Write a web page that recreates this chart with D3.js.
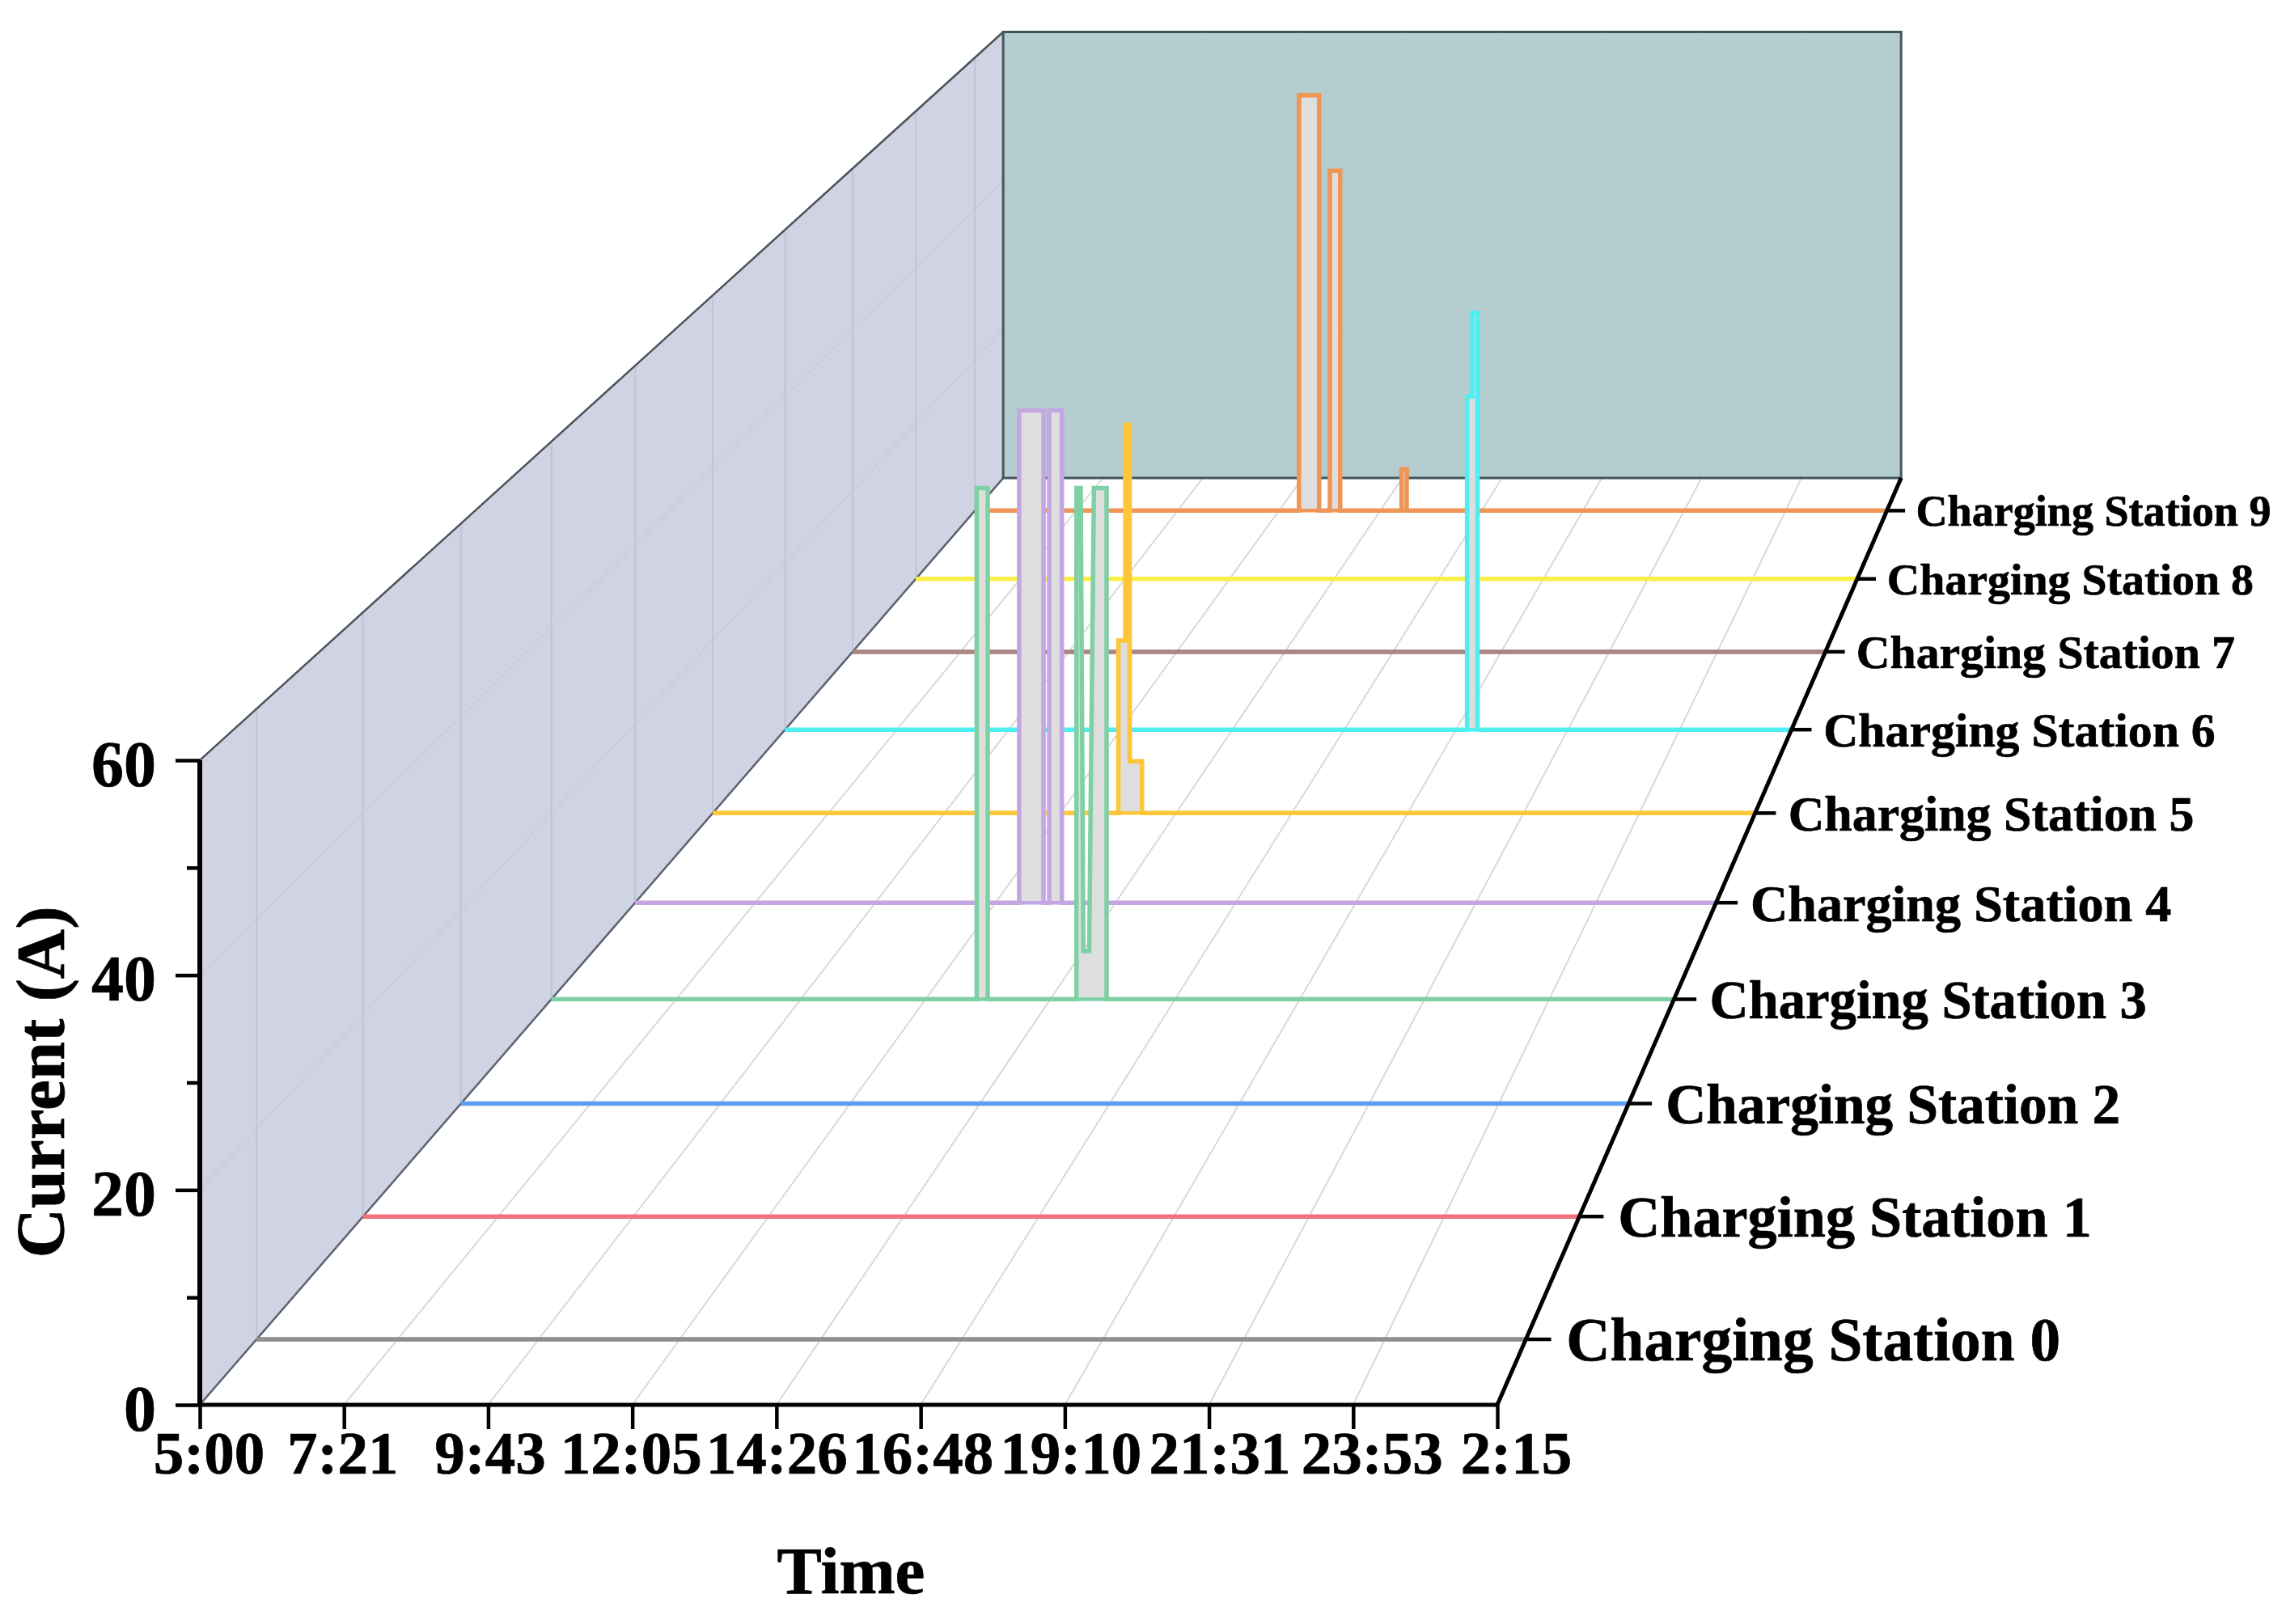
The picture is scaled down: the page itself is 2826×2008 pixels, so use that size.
<!DOCTYPE html>
<html>
<head>
<meta charset="utf-8">
<script src="https://cdn.jsdelivr.net/npm/d3@7"></script>
<style>
html,body{margin:0;padding:0;background:#fff}
svg{display:block}
text{font-family:"Liberation Serif","Times New Roman",serif;font-weight:bold;fill:#000;stroke:#000;stroke-width:0.7px}
</style>
</head>
<body>
<svg id="chart" width="2826" height="2008"></svg>
<script>
// ---------- data ----------
const stationNames = ["Charging Station 0","Charging Station 1","Charging Station 2","Charging Station 3","Charging Station 4","Charging Station 5","Charging Station 6","Charging Station 7","Charging Station 8","Charging Station 9"];
const stationColors = ["#8f8f8f","#f0737c","#5d9df0","#7fd0a4","#c3a6e2","#fdc63a","#4feef0","#a98583","#f9ef45","#ef9556"];
const timeTickHours = [5,7.361,9.722,12.083,14.444,16.806,19.167,21.528,23.889,26.25];
const timeTickLabels = ["5:00","7:21","9:43","12:05","14:26","16:48","19:10","21:31","23:53","2:15"];
const currentMajorTicks = [0,20,40,60];
const currentAllTicks = [0,10,20,30,40,50,60];

// hours since midnight (values past 24 run into the next day) and current in A
const station0Hours = [5,26.25];
const station0Amps  = [0,0];
const station1Hours = [5,26.25];
const station1Amps  = [0,0];
const station2Hours = [5,26.25];
const station2Amps  = [0,0];
const station3Hours = [5,13.05,13.05,13.26,13.26,14.94,14.94,15.02,15.07,15.18,15.27,15.51,15.51,26.25];
const station3Amps  = [0,0,55,55,0,0,55,55,5.2,5.2,55,55,0,0];
const station4Hours = [5,12.55,12.55,13.03,13.03,13.14,13.14,13.39,13.39,26.25];
const station4Amps  = [0,0,55,55,0,0,55,55,0,0];
const station5Hours = [5,13.27,13.27,13.41,13.41,13.50,13.50,13.75,13.75,26.25];
const station5Amps  = [0,0,20,20,45,45,6,6,0,0];
const station6Hours = [5,19.40,19.40,19.51,19.51,19.62,19.62,26.25];
const station6Amps  = [0,0,40,40,50,50,0,0];
const station7Hours = [5,26.25];
const station7Amps  = [0,0];
const station8Hours = [5,26.25];
const station8Amps  = [0,0];
const station9Hours = [5,12.55,12.55,13.02,13.02,13.27,13.27,13.51,13.51,14.94,14.94,15.06,15.06,26.25];
const station9Amps  = [0,0,55,55,0,0,45,45,0,0,5.5,5.5,0,0];

const stationHours = [station0Hours,station1Hours,station2Hours,station3Hours,station4Hours,station5Hours,station6Hours,station7Hours,station8Hours,station9Hours];
const stationAmps  = [station0Amps,station1Amps,station2Amps,station3Amps,station4Amps,station5Amps,station6Amps,station7Amps,station8Amps,station9Amps];

// ---------- scales and perspective ----------
const xScale = d3.scaleLinear().domain([5,26.25]).range([247,1851]);
const yScale = d3.scaleLinear().domain([0,60]).range([1737,940]);
const zScale = d3.scaleBand().domain(stationNames).range([0,1]);
const vanishX = 3472, vanishY = -1984, depthK = 0.445;
const persp = z => 1/(1+depthK*z);
const zOf = name => zScale(name)+zScale.bandwidth()/2;
const project = (h,a,z) => {
  const s = persp(z);
  return [vanishX+(xScale(h)-vanishX)*s, vanishY+(yScale(a)-vanishY)*s];
};
const xMin = xScale.domain()[0], xMax = xScale.domain()[1], yMax = yScale.domain()[1];

const svg = d3.select("#chart");
const path = d3.line();

// ---------- walls ----------
const wallLeft = [project(xMin,0,0),project(xMin,0,1),project(xMin,yMax,1),project(xMin,yMax,0)];
const wallBack = [project(xMin,0,1),project(xMax,0,1),project(xMax,yMax,1),project(xMin,yMax,1)];
svg.append("path").attr("d",path(wallLeft)+"Z").attr("fill","#cfd3e3");
svg.append("path").attr("d",path(wallBack)+"Z").attr("fill","#b4cdcf");

// wall grid
const gridG = svg.append("g").attr("fill","none");
currentMajorTicks.slice(1,3).forEach(a=>{
  gridG.append("path").attr("d",path([project(xMin,a,0),project(xMin,a,1)])).attr("stroke","#c8ccdb").attr("stroke-width",2);
  gridG.append("path").attr("d",path([project(xMin,a,1),project(xMax,a,1)])).attr("stroke","#b2cbcd").attr("stroke-width",2);
});
stationNames.forEach(n=>{
  gridG.append("path").attr("d",path([project(xMin,0,zOf(n)),project(xMin,yMax,zOf(n))])).attr("stroke","#c0c4d4").attr("stroke-width",2);
});
timeTickHours.slice(1,-1).forEach(h=>{
  gridG.append("path").attr("d",path([project(h,0,1),project(h,yMax,1)])).attr("stroke","#b2cbcd").attr("stroke-width",2);
  gridG.append("path").attr("d",path([project(h,0,0),project(h,0,1)])).attr("stroke","#d9d9d9").attr("stroke-width",2);
});

// wall borders
svg.append("path").attr("d",path([wallLeft[0],wallLeft[1]])).attr("fill","none").attr("stroke","#5b6170").attr("stroke-width",2.5);
svg.append("path").attr("d",path([wallLeft[3],wallLeft[2]])).attr("fill","none").attr("stroke","#4a5358").attr("stroke-width",2.5);
svg.append("path").attr("d",path(wallBack)+"Z").attr("fill","none").attr("stroke","#43565b").attr("stroke-width",3);

// ---------- series (back to front) ----------
d3.range(stationNames.length-1,-1,-1).forEach(i=>{
  const z = zOf(stationNames[i]);
  const pts = stationHours[i].map((h,k)=>project(h,stationAmps[i][k],z));
  svg.append("path").attr("d",path(pts)+"Z").attr("fill","#dedede").attr("stroke","none");
  // baseline across the whole depth row, running under the pulses
  svg.append("path").attr("d",path([project(xMin,0,z),project(xMax,0,z)])).attr("fill","none")
    .attr("stroke",stationColors[i]).attr("stroke-width",4.5);
  svg.append("path").attr("d",path(pts)).attr("fill","none")
    .attr("stroke",stationColors[i]).attr("stroke-width",5.5).attr("stroke-linejoin","miter");
});

// ---------- axes ----------
const xNudge = [11,-2,2,-2,0,2,7,13,23,23];
const xAxis = d3.axisBottom(xScale).tickValues(timeTickHours).tickSize(30).tickPadding(0)
  .tickFormat((d,i)=>timeTickLabels[i]);
const xG = svg.append("g").attr("transform",`translate(0,${yScale(0)})`).call(xAxis);
xG.select(".domain").attr("stroke","#000").attr("stroke-width",5).attr("d",`M${xScale(xMin)},0H${xScale(xMax)}`);
xG.selectAll(".tick line").attr("stroke","#000").attr("stroke-width",4.5);
xG.selectAll(".tick text").attr("font-size",75).attr("font-family",null).attr("dy",null)
  .attr("x",(d,i)=>xNudge[i]).attr("y",85).attr("text-anchor","middle");

const yAxis = d3.axisLeft(yScale).tickValues(currentAllTicks).tickSize(30).tickPadding(0)
  .tickFormat(d=>currentMajorTicks.includes(d)?d:"");
const yG = svg.append("g").attr("transform",`translate(${xScale(xMin)},0)`).call(yAxis);
yG.select(".domain").attr("stroke","#000").attr("stroke-width",6).attr("d",`M0,${yScale(0)}V${yScale(yMax)}`);
yG.selectAll(".tick line").attr("stroke","#000").attr("stroke-width",4.5)
  .attr("x2",d=>currentMajorTicks.includes(d)?-30:-16);
yG.selectAll(".tick text").attr("font-size",80).attr("font-family",null).attr("dy",null)
  .attr("x",-54).attr("y",31).attr("text-anchor","end");

// depth axis
svg.append("path").attr("d",path([project(xMax,0,0),project(xMax,0,1)])).attr("fill","none").attr("stroke","#000").attr("stroke-width",5);
stationNames.forEach(n=>{
  const z = zOf(n), s = persp(z), p = project(xMax,0,z);
  svg.append("path").attr("d",path([p,[p[0]+32*s,p[1]]])).attr("fill","none").attr("stroke","#000").attr("stroke-width",4.5);
  svg.append("text").attr("x",p[0]+51*s).attr("y",p[1]+27*s).attr("font-size",77*s).text(n);
});

// axis titles
svg.append("text").attr("x",1052).attr("y",1970).attr("text-anchor","middle").attr("font-size",83).text("Time");
svg.append("text").attr("transform","translate(79,1338) rotate(-90)").attr("text-anchor","middle").attr("font-size",85).text("Current (A)");
</script>
</body>
</html>
